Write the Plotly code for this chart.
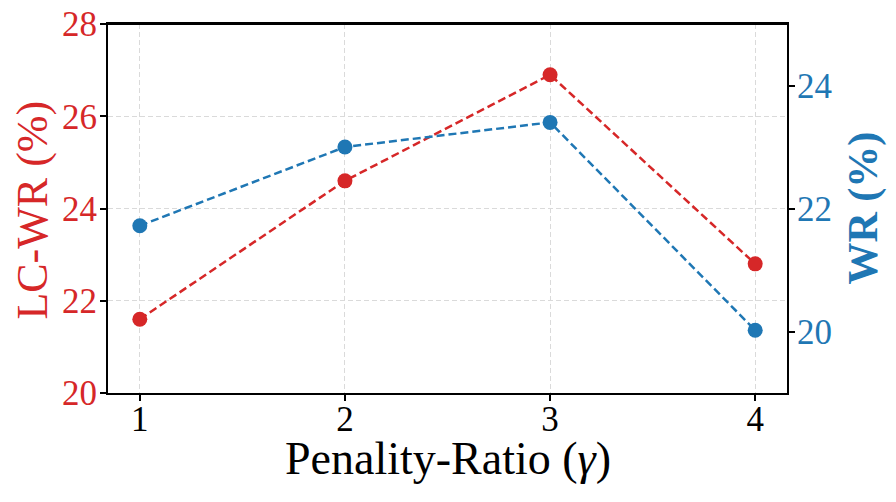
import plotly.graph_objects as go

gamma = [1, 2, 3, 4]
lc_wr = [21.6, 24.6, 26.9, 22.8]
wr = [21.72, 23.0, 23.4, 20.02]
left_ticks = [20, 22, 24, 26, 28]
right_ticks = [20, 22, 24]

RED = "#d62728"
BLUE = "#1f77b4"
FONT = "Liberation Serif"

fig = go.Figure()
fig.add_trace(go.Scatter(x=gamma, y=lc_wr, mode="lines+markers", name="LC-WR",
                         line=dict(color=RED, width=2.5, dash="8px,4px"),
                         marker=dict(color=RED, size=15), yaxis="y"))
fig.add_trace(go.Scatter(x=gamma, y=wr, mode="lines+markers", name="WR",
                         line=dict(color=BLUE, width=2.5, dash="8px,4px"),
                         marker=dict(color=BLUE, size=15), yaxis="y2"))

grid = dict(showgrid=True, gridcolor="#dadada", griddash="5px,3px", gridwidth=1)
common = dict(showline=True, linecolor="black", linewidth=2,
              ticks="outside", ticklen=6, tickwidth=1.5, tickcolor="black",
              zeroline=False, automargin=False, ticklabeloverflow="allow")

fig.update_layout(
    width=896, height=502,
    margin=dict(l=108, r=109, t=24, b=109),
    paper_bgcolor="white", plot_bgcolor="white",
    showlegend=False,
    font=dict(family=FONT, color="black"),
    xaxis=dict(range=[0.845, 4.155], tickvals=gamma, ticktext=[str(g) for g in gamma],
               mirror=True, tickfont=dict(size=35, family=FONT, color="black"),
               ticklabelstandoff=-12,
               **common, **grid),
    yaxis=dict(range=[20, 28], tickvals=left_ticks,
               tickfont=dict(size=35, family=FONT, color=RED),
               ticklabelstandoff=-4,
               **common, **grid),
    yaxis2=dict(range=[19, 25], tickvals=right_ticks, overlaying="y", side="right",
                tickfont=dict(size=35, family=FONT, color=BLUE),
                ticklabelstandoff=-5,
                showgrid=False, **common),
    shapes=[dict(type="line", xref="paper", yref="paper", x0=0, x1=1, y0=1, y1=1,
                 line=dict(color="black", width=2), layer="above")],
    annotations=[
        dict(text="Penality-Ratio (<i>γ</i>)", xref="paper", yref="paper", x=0.5, y=-0.178,
             xanchor="center", yanchor="middle", showarrow=False,
             font=dict(size=46, family=FONT, color="black")),
        dict(text="LC-WR (%)", xref="paper", yref="paper", x=-0.111, y=0.496,
             xanchor="center", yanchor="middle", showarrow=False, textangle=-90,
             font=dict(size=44, family=FONT, color=RED)),
        dict(text="<b>WR (%)</b>", xref="paper", yref="paper", x=1.112, y=0.5,
             xanchor="center", yanchor="middle", showarrow=False, textangle=-90,
             font=dict(size=42, family=FONT, color=BLUE)),
    ],
)

fig.write_html("out.html", config={"displayModeBar": False},
               post_script="document.body.style.margin='0px';")
